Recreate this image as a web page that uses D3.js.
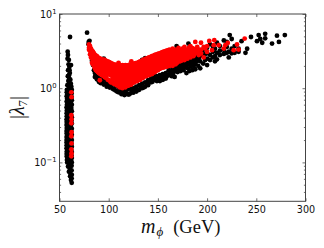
<!DOCTYPE html>
<html>
<head>
<meta charset="utf-8">
<script src="https://cdnjs.cloudflare.com/ajax/libs/d3/7.8.5/d3.min.js"></script>
<style>
  html, body { margin: 0; padding: 0; background: #fff; }
  svg { display: block; }
  .tick text { font-family: "DejaVu Sans", sans-serif; font-size: 9.6px; fill: #111; }
  .domain { display: none; }
  .tick line { stroke: #333; stroke-width: 0.7; }
</style>
</head>
<body>
<svg class="chart" width="324" height="248"></svg>
<script>
// each row: mass first, then the |lambda7| values seen at that mass
const blackStrip = [
  [60.7, 4.9], [58.3, 3.1], [58.6, 2.8], [58.2, 2.5], [59.5, 2.4], [61.7, 2.05], [60, 1.95], [58.7, 1.75],
  [60.5, 1.6], [58.5, 1.45], [61, 1.3], [59, 1.25], [60.5, 1.15], [58, 1.1], [62, 1.05], [59.5, 1.0],
  [59.2, 2.1], [60.2, 1.75], [59.6, 1.5], [60, 1.35], [61.5, 1.15], [59.6, 1.1],
  [57.5, 0.95], [60.5, 0.9], [62.3, 0.85], [58, 0.82], [60, 0.78], [57.7, 0.72], [59.5, 0.68], [61.5, 0.65],
  [57.6, 0.6], [59.5, 0.57], [62, 0.54], [57.5, 0.5], [59.6, 0.47], [61.8, 0.44], [57.4, 0.42], [59.5, 0.39],
  [62.2, 0.37], [57.3, 0.35], [59.6, 0.33], [61.5, 0.31], [57.4, 0.29], [59.5, 0.27], [62, 0.26], [57.3, 0.245],
  [59.5, 0.23], [61.7, 0.215], [57.2, 0.2], [59.6, 0.19], [62.2, 0.18], [57.3, 0.17], [59.5, 0.16], [61.6, 0.15],
  [57.4, 0.14], [59.5, 0.132], [62.2, 0.125], [57.4, 0.12], [59.6, 0.112], [61.7, 0.105], [57.8, 0.1], [60, 0.095],
  [62.3, 0.09], [58.7, 0.088], [60.5, 0.082], [62.3, 0.078], [59.6, 0.075], [61.2, 0.07], [62.5, 0.068], [60.8, 0.065],
  [62.3, 0.061], [61.7, 0.058], [62.4, 0.053],
  [58.8, 0.88], [61, 0.74], [58.6, 0.63], [60.7, 0.53], [58.6, 0.45], [60.8, 0.36], [58.5, 0.3], [60.7, 0.25],
  [58.5, 0.21], [60.8, 0.17], [58.4, 0.145], [60.7, 0.125], [58.6, 0.105],
  // left and right edges of the column, it has no holes in the picture
  [57.4, 0.88], [57.3, 0.78], [57.3, 0.66], [57.2, 0.55], [57.3, 0.46], [57.2, 0.38], [57.2, 0.32], [57.2, 0.265],
  [57.2, 0.22], [57.2, 0.185], [57.2, 0.155], [57.3, 0.13], [57.6, 0.108],
  [62.5, 0.95], [62.4, 0.76], [62.5, 0.69], [62.5, 0.6], [62.5, 0.49], [62.5, 0.405], [62.5, 0.335], [62.5, 0.285],
  [62.5, 0.235], [62.5, 0.2], [62.5, 0.163], [62.5, 0.138], [62.5, 0.115], [62.5, 0.1],
  [60.3, 0.96], [60.4, 0.83], [60.5, 0.7], [60.5, 0.6], [60.6, 0.49], [60.6, 0.41], [60.6, 0.335], [60.6, 0.285],
  [60.6, 0.225], [60.6, 0.195], [60.6, 0.15], [60.6, 0.112], [61.2, 0.09]
];
const redStrip = [
  [62, 0.88], [62.2, 0.756], [62, 0.433], [62.2, 0.382], [62, 0.337],
  [62.2, 0.255], [62, 0.225], [62.2, 0.18], [62, 0.15], [62.2, 0.133], [62, 0.121]
];
const blackBand = [
  [78, 5.6], [79.7, 4.2], [80.5, 4.35], [79.5, 3.9],
  [81, 3.3], [82, 2.8], [83, 2.35], [84, 2.05, 2.4], [85, 1.75],
  [86, 1.42, 1.6, 2.0], [87, 1.5], [88, 1.32, 1.55], [89, 1.38], [90, 1.22, 1.45], [91, 1.2], [92, 1.17, 1.4],
  [93.5, 1.2], [95, 1.12, 1.32, 2.5], [96.5, 1.16], [98, 1.05, 1.25], [99.5, 1.1], [101, 1.02, 1.2], [102.5, 1.05],
  [104, 0.98, 1.15], [105.5, 0.96], [107, 0.93, 1.08], [108.5, 0.9], [110, 0.88, 1.02], [111.5, 0.93],
  [113, 0.83, 0.97], [114.5, 0.88], [116, 0.81, 0.93], [117.5, 0.86], [119, 0.83, 0.96], [120.5, 0.82],
  [122, 0.85, 0.98], [123.5, 0.92], [125, 0.87, 1.0], [126.5, 0.95], [128, 0.9, 1.05], [129.5, 0.94],
  [131, 0.95, 1.1], [132.5, 1.03], [134, 1.0, 1.15, 2.4], [135.5, 1.02], [137, 1.05, 1.2, 2.55], [138.5, 1.14],
  [140, 1.1, 1.28, 2.45], [141.5, 1.2], [143, 1.2, 1.35], [144.5, 1.22], [146, 1.3, 1.45], [147.5, 1.36],
  [149, 1.25, 1.45], [150.5, 1.38], [152, 1.25, 1.5], [153.5, 1.4], [155, 1.3, 1.55], [156.5, 1.42],
  [158, 1.35, 1.6], [159.5, 1.47], [161, 1.5, 1.75], [162.5, 1.6], [164, 1.45, 1.7, 1.95], [165.5, 1.58, 1.85],
  [167, 1.42, 1.7, 2.0], [168.5, 1.85], [169, 3.7], [170, 1.65, 1.9, 2.15], [171.5, 1.78, 2.05],
  [173, 1.7, 1.95, 2.25], [174.5, 1.85, 2.1], [176, 1.75, 2.05, 2.4], [177.5, 1.9, 2.2], [179, 1.6, 2.0, 2.3],
  [181, 4.0], [180.5, 1.85, 2.15], [182, 1.7, 2.1, 2.5], [183.5, 1.95, 2.3], [185, 1.75, 2.2, 2.7], [186.5, 2.0, 2.4],
  [188, 1.8, 2.15, 2.6, 3.0], [189.5, 2.3, 2.75], [191, 2.0, 2.4, 2.8], [192, 2.6],
  [193, 1.85, 2.3, 3.1], [196, 2.15, 2.7, 3.3], [198, 2.4, 2.9], [200, 2.05, 2.5, 2.95, 3.5], [203, 2.4, 2.8, 3.9],
  [206, 2.6, 3.1, 3.6], [208, 2.3, 2.7, 3.4], [210, 2.45, 3.0, 4.1], [213, 2.8, 3.2, 3.7], [217, 2.9, 3.3, 4.4],
  [220, 3.0, 3.6, 4.2], [222, 2.6, 3.1], [223, 5.2], [225, 4.6, 2.95, 3.4], [228, 3.0, 3.7], [232, 3.1, 3.4],
  [235, 4.3], [239, 3.0], [240.7, 3.4], [244.6, 4.9], [250.7, 4.3], [252.4, 5.2], [254, 4.6], [256, 4.1],
  [259, 5.4, 4.7], [266, 4.0], [271, 5.1], [273, 4.2], [279, 5.2]
];
const redBand = [
  [80, 3.9, 3.5, 3.3], [82, 3.4, 3.0, 2.6], [84, 3.1, 2.75, 2.4, 2.1], [86, 2.8, 2.5, 2.2, 1.85],
  [88, 2.7, 2.4, 2.1, 1.9, 1.7], [90, 2.55, 2.25, 2.0, 1.8, 1.6], [91, 1.28], [93, 2.45, 2.2, 1.95, 1.7, 1.5],
  [96, 2.4, 2.12, 1.9, 1.68, 1.4], [99, 2.3, 2.05, 1.82, 1.58, 1.3], [102, 2.2, 1.96, 1.74, 1.5, 1.2],
  [105, 2.1, 1.88, 1.66, 1.42, 1.15], [108, 2.05, 1.82, 1.58, 1.34, 1.1], [110, 2.2], [111, 2.05, 1.78, 1.52, 1.26, 1.03],
  [114, 2.05, 1.76, 1.5, 1.24, 1.0], [117, 2.05, 1.78, 1.52, 1.28, 1.03], [120, 2.05, 1.8, 1.55, 1.3, 1.08],
  [123, 2.3, 2.1, 1.82, 1.58, 1.34, 1.12], [126, 2.15, 1.88, 1.65, 1.42, 1.2], [129, 2.2, 1.94, 1.7, 1.46, 1.25],
  [132, 2.3, 2.02, 1.76, 1.52, 1.3], [135, 2.4, 2.1, 1.84, 1.6, 1.38], [138, 2.5, 2.2, 1.92, 1.68, 1.45],
  [141, 2.6, 2.28, 2.0, 1.74, 1.5], [144, 2.7, 2.36, 2.06, 1.8, 1.55], [147, 2.8, 2.45, 2.15, 1.88, 1.65],
  [150, 2.9, 2.55, 2.25, 1.98, 1.75], [153, 3.0, 2.65, 2.35, 2.08, 1.85], [156, 3.1, 2.75, 2.42, 2.15, 1.9],
  [159, 3.2, 2.85, 2.5, 2.2, 1.95], [162, 3.3, 2.9, 2.55, 2.25, 2.0], [165, 3.4, 2.95, 2.6, 2.3, 2.0],
  [168, 3.3, 2.9, 2.6, 2.3, 2.1], [171, 3.5, 3.0, 2.65, 2.3], [174, 3.3, 2.95, 2.6, 2.35],
  [177, 3.6, 3.1, 2.75, 2.4], [180, 3.3, 2.9, 2.5], [183, 3.7, 3.2, 2.85, 2.6], [186, 3.4, 3.0, 2.7],
  [188, 4.2, 3.32], [190, 3.6, 3.0], [193.8, 4.1, 2.93, 3.3], [196.5, 3.6, 2.6], [198, 3.42],
  [200, 3.08, 3.7], [202.2, 4.34], [205, 3.25], [206.7, 3.8], [207.3, 4.44], [211.8, 3.8], [217, 3.42],
  [218.5, 3.8], [221, 4.08], [227, 3.25], [230.4, 3.88], [232, 3.32], [238.2, 4.67]
];
// in-between points, the band is solid red in the picture
const redBandFill = [
  [81, 3.7, 3.2, 2.85], [83, 3.2, 2.85, 2.5, 2.2], [85, 2.95, 2.62, 2.3, 2.0], [87, 2.75, 2.45, 2.15, 1.95, 1.75],
  [89, 2.6, 2.3, 2.05, 1.85, 1.65], [91.5, 2.5, 2.22, 1.97, 1.75, 1.55], [94.5, 2.42, 2.15, 1.9, 1.68, 1.47],
  [97.5, 2.33, 2.08, 1.85, 1.62, 1.38], [100.5, 2.25, 2.0, 1.78, 1.55, 1.28], [103.5, 2.15, 1.92, 1.7, 1.46, 1.2],
  [106.5, 2.08, 1.85, 1.62, 1.38, 1.14], [109.5, 2.03, 1.8, 1.55, 1.3, 1.08], [112.5, 2.02, 1.76, 1.5, 1.25, 1.03],
  [115.5, 2.02, 1.77, 1.5, 1.26, 1.05], [118.5, 2.03, 1.78, 1.54, 1.29, 1.08], [121.5, 2.07, 1.81, 1.56, 1.32, 1.12],
  [124.5, 2.1, 1.85, 1.61, 1.38, 1.18], [127.5, 2.18, 1.9, 1.67, 1.44, 1.24], [130.5, 2.24, 1.97, 1.73, 1.49, 1.3],
  [133.5, 2.34, 2.06, 1.8, 1.56, 1.36], [136.5, 2.44, 2.15, 1.88, 1.64, 1.44], [139.5, 2.55, 2.24, 1.96, 1.71, 1.5],
  [142.5, 2.65, 2.32, 2.03, 1.77, 1.56], [145.5, 2.74, 2.4, 2.1, 1.84, 1.62], [148.5, 2.85, 2.5, 2.2, 1.93, 1.72],
  [151.5, 2.95, 2.6, 2.3, 2.03, 1.82], [154.5, 3.05, 2.7, 2.38, 2.12, 1.9], [157.5, 3.15, 2.8, 2.46, 2.18, 1.95],
  [160.5, 3.25, 2.88, 2.52, 2.22, 2.0], [163.5, 3.05, 2.72, 2.42, 2.15], [166.5, 3.15, 2.78, 2.45, 2.2],
  [169.5, 3.1, 2.75, 2.45, 2.2], [172.5, 3.2, 2.8, 2.5, 2.3], [175.5, 3.45, 2.8, 2.5], [178.5, 3.25, 2.9, 2.55],
  [181.5, 3.5, 3.05, 2.7], [184.5, 3.5, 3.1, 2.75], [187, 3.2, 2.85], [191.5, 3.3, 2.8],
  [92, 2.32, 2.07, 1.84, 1.62], [98, 2.18, 1.96, 1.74, 1.5], [104, 2.0, 1.78, 1.55, 1.3], [107.5, 1.94, 1.7, 1.46, 1.22],
  [110.5, 1.9, 1.65, 1.4, 1.15], [113.5, 1.89, 1.63, 1.37, 1.13], [116.5, 1.9, 1.64, 1.39, 1.16], [119.5, 1.92, 1.67, 1.42, 1.2],
  [122.5, 1.95, 1.69, 1.45, 1.23], [125.5, 2.0, 1.74, 1.5, 1.3], [128.5, 2.06, 1.8, 1.56, 1.35], [131.5, 2.13, 1.87, 1.62, 1.41],
  [134.5, 2.22, 1.95, 1.7, 1.48], [137.5, 2.32, 2.04, 1.78, 1.55], [140.5, 2.42, 2.12, 1.85, 1.62], [143.5, 2.52, 2.2, 1.92, 1.68],
  [146.5, 2.62, 2.3, 2.0, 1.76], [149.5, 2.72, 2.4, 2.1, 1.86], [152.5, 2.82, 2.5, 2.2, 1.96], [155.5, 2.9, 2.58, 2.28, 2.02],
  [158.5, 3.0, 2.66, 2.34, 2.06]
];
const xTicks = [50, 100, 150, 200, 250, 300];
const yMajor = [0.1, 1, 10];
const yMinor = [0.04, 0.05, 0.06, 0.07, 0.08, 0.09, 0.2, 0.3, 0.4, 0.5, 0.6, 0.7, 0.8, 0.9, 2, 3, 4, 5, 6, 7, 8, 9];
const yExponents = ["\u22121", "0", "1"];

const svg = d3.select("svg.chart");
const plotLeft = 59.5, plotRight = 305.5, plotTop = 14, plotBottom = 201.3;

const x = d3.scaleLinear().domain([50, 300]).range([plotLeft, plotRight]);
const y = d3.scaleLog().domain([0.0299, 10]).range([plotBottom, plotTop]);

// rows hold mass + several values, split them into single points
const flatten = rows => rows.flatMap(r => r.slice(1).map(v => [r[0], v]));

const drawDots = (rows, color) => svg.append("g")
  .selectAll("circle")
  .data(flatten(rows))
  .enter().append("circle")
    .attr("cx", d => x(d[0]))
    .attr("cy", d => y(d[1]))
    .attr("r", 2.4)
    .attr("fill", color);

drawDots(blackStrip, "#000");
drawDots(blackBand, "#000");
drawDots(redStrip, "#f00");
drawDots(redBand, "#f00");
drawDots(redBandFill, "#f00");

// inward ticks on all four sides
svg.append("g").attr("transform", `translate(0,${plotBottom})`)
  .call(d3.axisBottom(x).tickValues(xTicks).tickSize(-3).tickPadding(5).tickFormat(d3.format("d")));
svg.append("g").attr("transform", `translate(0,${plotTop})`)
  .call(d3.axisTop(x).tickValues(xTicks).tickSize(-3).tickFormat(""));

const yl = svg.append("g").attr("transform", `translate(${plotLeft},0)`)
  .call(d3.axisLeft(y).tickValues(yMajor).tickSize(-3).tickPadding(3).tickFormat(() => "10"));
yl.selectAll(".tick text").append("tspan")
  .attr("dy", -4).attr("font-size", 6.8).text((d, i) => yExponents[i]);
svg.append("g").attr("transform", `translate(${plotLeft},0)`)
  .call(d3.axisLeft(y).tickValues(yMinor).tickSize(-1.6).tickFormat(""));
svg.append("g").attr("transform", `translate(${plotRight},0)`)
  .call(d3.axisRight(y).tickValues(yMajor).tickSize(-3).tickFormat(""));
svg.append("g").attr("transform", `translate(${plotRight},0)`)
  .call(d3.axisRight(y).tickValues(yMinor).tickSize(-1.6).tickFormat(""));

svg.append("rect")
  .attr("x", plotLeft).attr("y", plotTop)
  .attr("width", plotRight - plotLeft).attr("height", plotBottom - plotTop)
  .attr("fill", "none").attr("stroke", "#444").attr("stroke-width", 1);

// axis titles
const xTitle = svg.append("text")
  .attr("x", 141).attr("y", 233)
  .attr("font-family", "'Liberation Serif', serif")
  .attr("font-size", 18.5)
  .attr("fill", "#111");
xTitle.append("tspan").attr("font-style", "italic").attr("font-size", 20).text("m");
xTitle.append("tspan").attr("font-style", "italic").attr("font-size", 13).attr("dy", 3).attr("dx", 1).text("\u03d5");
xTitle.append("tspan").attr("dy", -3).attr("dx", 10).text("(GeV)");

const yTitle = svg.append("text")
  .attr("transform", "translate(24,107.5) rotate(-90)")
  .attr("text-anchor", "middle")
  .attr("font-family", "'Liberation Serif', serif")
  .attr("font-size", 20)
  .attr("fill", "#333");
yTitle.append("tspan").text("|");
yTitle.append("tspan").attr("font-style", "italic").attr("fill", "#111").text("\u03bb");
yTitle.append("tspan").attr("font-size", 13).attr("fill", "#111").attr("dy", 3).text("7");
yTitle.append("tspan").attr("dy", -3).text("|");
</script>
</body>
</html>
